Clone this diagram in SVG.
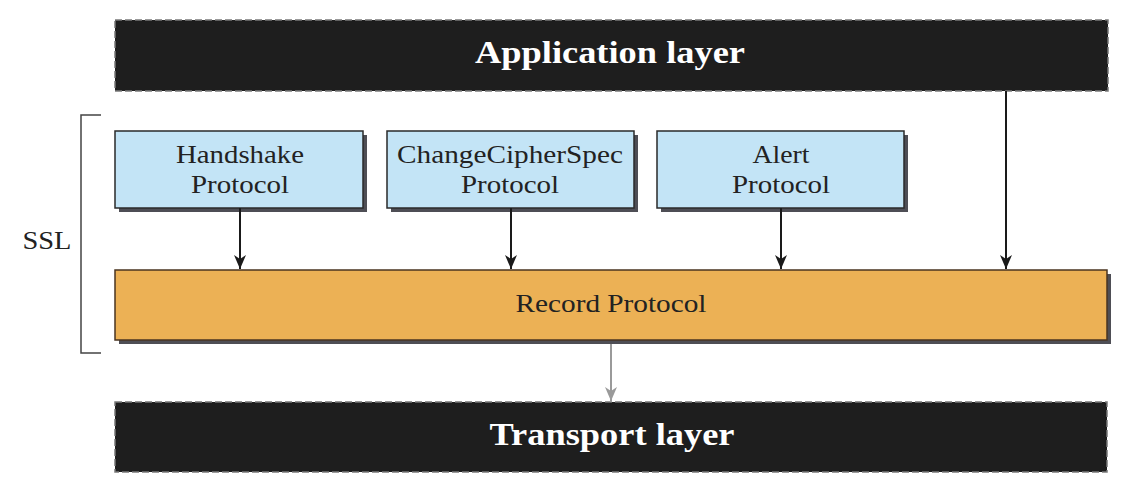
<svg xmlns="http://www.w3.org/2000/svg" width="1126" height="478" viewBox="0 0 1126 478">
<style>
.bar{fill:#1e1e1e;stroke:#7a7a7a;stroke-width:1.5;stroke-dasharray:7 3}
.barText{font-family:"Liberation Serif",serif;font-weight:bold;font-size:31px;fill:#ffffff;text-anchor:middle}
.box{fill:#c3e4f6;stroke:#2a2a2a;stroke-width:1.5}
.rec{fill:#ecb155;stroke:#4a3520;stroke-width:1.5}
.shadow{fill:#4e4e55}
.lbl{font-family:"Liberation Serif",serif;font-size:26px;fill:#222;text-anchor:middle}
.conn{stroke:#1a1a1a;stroke-width:2;fill:none}
.connGray{stroke:#9a9a9a;stroke-width:2;fill:none}
.bracket{stroke:#444;stroke-width:1.5;fill:none}
</style>
<defs>
<marker id="ah" viewBox="0 0 14 12" refX="14" refY="6" markerWidth="14" markerHeight="12" markerUnits="userSpaceOnUse" orient="auto">
<path d="M0,0 L14,6 L0,12 L4,6 Z" fill="#1a1a1a"/>
</marker>
<marker id="ahg" viewBox="0 0 14 12" refX="14" refY="6" markerWidth="14" markerHeight="12" markerUnits="userSpaceOnUse" orient="auto">
<path d="M0,0 L14,6 L0,12 L4,6 Z" fill="#9a9a9a"/>
</marker>
</defs>
<rect width="1126" height="478" fill="#ffffff"/>

<g id="application-layer">
<rect class="bar" x="115" y="20" width="993" height="71"/>
<text class="barText" x="610" y="63" textLength="270" lengthAdjust="spacingAndGlyphs">Application layer</text>
</g>

<g id="ssl-bracket">
<path class="bracket" d="M101,115 H81 V353 H101"/>
<text x="47" y="249" font-family="Liberation Serif, serif" font-size="25" fill="#222" text-anchor="middle" textLength="49" lengthAdjust="spacingAndGlyphs">SSL</text>
</g>

<g id="handshake">
<rect class="shadow" x="119" y="135" width="248" height="77"/>
<rect class="box" x="115" y="131" width="248" height="77"/>
<text class="lbl" x="240" y="163" textLength="128" lengthAdjust="spacingAndGlyphs">Handshake</text>
<text class="lbl" x="240" y="193" textLength="98" lengthAdjust="spacingAndGlyphs">Protocol</text>
</g>

<g id="changecipherspec">
<rect class="shadow" x="391" y="135" width="247" height="77"/>
<rect class="box" x="387" y="131" width="247" height="77"/>
<text class="lbl" x="510" y="163" textLength="226" lengthAdjust="spacingAndGlyphs">ChangeCipherSpec</text>
<text class="lbl" x="510" y="193" textLength="98" lengthAdjust="spacingAndGlyphs">Protocol</text>
</g>

<g id="alert">
<rect class="shadow" x="661" y="135" width="247" height="77"/>
<rect class="box" x="657" y="131" width="247" height="77"/>
<text class="lbl" x="781" y="163" textLength="57" lengthAdjust="spacingAndGlyphs">Alert</text>
<text class="lbl" x="781" y="193" textLength="98" lengthAdjust="spacingAndGlyphs">Protocol</text>
</g>

<g id="record">
<rect class="shadow" x="119" y="274" width="992" height="70"/>
<rect class="rec" x="115" y="270" width="992" height="70"/>
<text class="lbl" x="611" y="312" textLength="191" lengthAdjust="spacingAndGlyphs">Record Protocol</text>
</g>

<g id="transport-layer">
<rect class="bar" x="115" y="402" width="992" height="70"/>
<text class="barText" x="612" y="445" textLength="245" lengthAdjust="spacingAndGlyphs">Transport layer</text>
</g>

<g id="connectors">
<line class="conn" x1="240" y1="208" x2="240" y2="269" marker-end="url(#ah)"/>
<line class="conn" x1="511" y1="208" x2="511" y2="269" marker-end="url(#ah)"/>
<line class="conn" x1="781" y1="208" x2="781" y2="269" marker-end="url(#ah)"/>
<line class="conn" x1="1006" y1="91" x2="1006" y2="269" marker-end="url(#ah)"/>
<line class="connGray" x1="611" y1="344" x2="611" y2="401" marker-end="url(#ahg)"/>
</g>
</svg>
